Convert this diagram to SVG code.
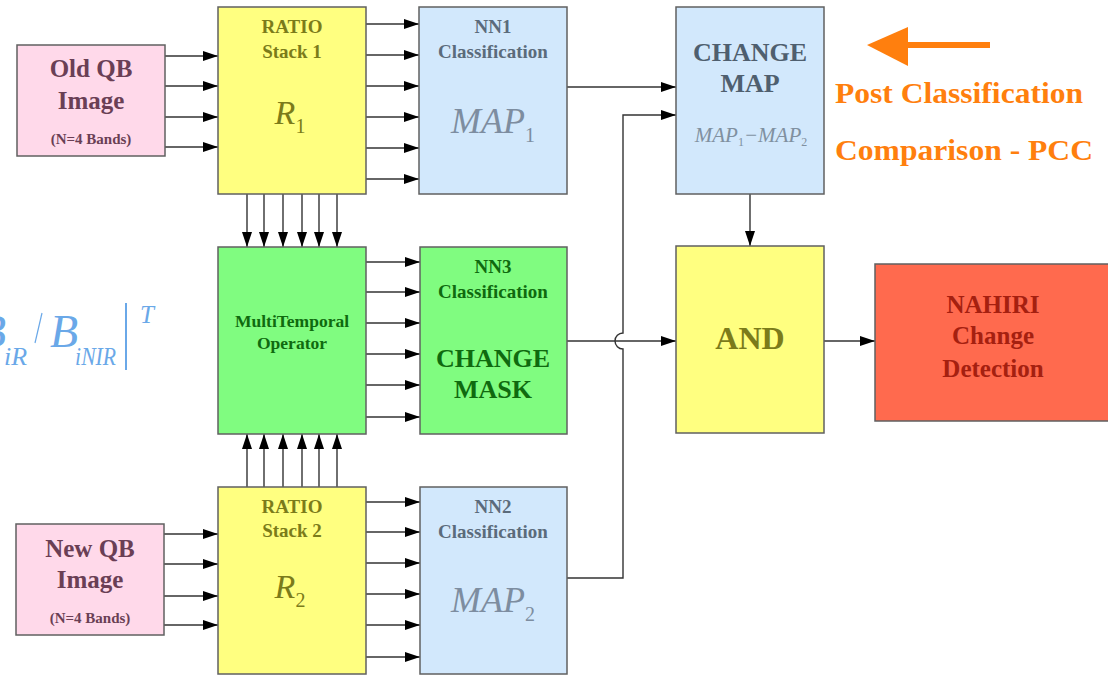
<svg xmlns="http://www.w3.org/2000/svg" width="1108" height="675" viewBox="0 0 1108 675">
<defs>
<marker id="ah" markerUnits="userSpaceOnUse" markerWidth="15" markerHeight="10" refX="15" refY="5" orient="auto">
<path d="M0,0 L15,5 L0,10 z" fill="#000"/>
</marker>
<style>
.box{stroke:#606060;stroke-width:1.5}
.pink{fill:#ffd9ea}
.yel{fill:#ffff80}
.blue{fill:#d2e8fc}
.grn{fill:#80fc80}
.red{fill:#ff6a4e}
text{font-family:"Liberation Serif","Times New Roman",serif;font-weight:bold;text-anchor:middle}
.it{font-style:italic;font-weight:normal}
.sub{font-style:normal}
.c{fill:none;stroke:#333;stroke-width:1.4;marker-end:url(#ah)}
.tpink{fill:#6a3f55}
.tyel{fill:#7b7b1a}
.tblue{fill:#5b6b7b}
.tgrn{fill:#0f6a0f}
.tred{fill:#a52010}
.org{fill:#ff7f0e;text-anchor:start}
.frm{fill:#6aa8e8;font-style:italic;font-weight:normal;text-anchor:start}
</style>
</defs>
<rect width="1108" height="675" fill="#fff"/>

<g id="formula">
<text class="frm" x="-22" y="347" font-size="46">B<tspan font-size="26" dy="18" dx="-2">iR</tspan></text>
<line x1="42" y1="313" x2="35" y2="343" stroke="#6aa8e8" stroke-width="1.2"/>
<text class="frm" x="50" y="347" font-size="46">B<tspan font-size="26" dy="18" dx="-3" textLength="41" lengthAdjust="spacingAndGlyphs">iNIR</tspan></text>
<line x1="126" y1="303" x2="126" y2="370" stroke="#6aa8e8" stroke-width="2"/>
<text class="frm" x="140" y="323" font-size="25">T</text>
</g>

<g id="connectors">
<path class="c" d="M165,56 H218"/>
<path class="c" d="M165,86 H218"/>
<path class="c" d="M165,117 H218"/>
<path class="c" d="M165,147 H218"/>
<path class="c" d="M366,24 H419"/>
<path class="c" d="M366,55 H419"/>
<path class="c" d="M366,86 H419"/>
<path class="c" d="M366,117 H419"/>
<path class="c" d="M366,148 H419"/>
<path class="c" d="M366,179 H419"/>
<path class="c" d="M247,194 V247"/>
<path class="c" d="M264,194 V247"/>
<path class="c" d="M283,194 V247"/>
<path class="c" d="M302,194 V247"/>
<path class="c" d="M319,194 V247"/>
<path class="c" d="M337,194 V247"/>
<path class="c" d="M247,487 V434"/>
<path class="c" d="M264,487 V434"/>
<path class="c" d="M283,487 V434"/>
<path class="c" d="M302,487 V434"/>
<path class="c" d="M319,487 V434"/>
<path class="c" d="M337,487 V434"/>
<path class="c" d="M366,262 H420"/>
<path class="c" d="M366,292 H420"/>
<path class="c" d="M366,323 H420"/>
<path class="c" d="M366,354 H420"/>
<path class="c" d="M366,385 H420"/>
<path class="c" d="M366,417 H420"/>
<path class="c" d="M164,534 H218"/>
<path class="c" d="M164,564 H218"/>
<path class="c" d="M164,596 H218"/>
<path class="c" d="M164,625 H218"/>
<path class="c" d="M366,502 H420"/>
<path class="c" d="M366,532 H420"/>
<path class="c" d="M366,563 H420"/>
<path class="c" d="M366,594 H420"/>
<path class="c" d="M366,625 H420"/>
<path class="c" d="M366,657 H420"/>
<path class="c" d="M567,87 H676"/>
<path class="c" d="M567,578 H623 V349 A8,8 0 0 1 623,333 V115 H676"/>
<path class="c" d="M567,341 H676"/>
<path class="c" d="M750,194 V246"/>
<path class="c" d="M824,341 H875"/>
</g>

<g id="oldqb">
<rect class="box pink" x="17" y="45" width="148" height="111"/>
<text class="tpink" x="91" y="77" font-size="25">Old QB</text>
<text class="tpink" x="91" y="109" font-size="25">Image</text>
<text class="tpink" x="91" y="144" font-size="15">(N=4 Bands)</text>
</g>

<g id="ratio1">
<rect class="box yel" x="218" y="7" width="148" height="187"/>
<text class="tyel" x="292" y="33" font-size="19">RATIO</text>
<text class="tyel" x="292" y="58" font-size="19">Stack 1</text>
<text class="tyel it" x="290" y="124" font-size="34">R<tspan class="sub" font-size="20" dy="9">1</tspan></text>
</g>

<g id="nn1">
<rect class="box blue" x="419" y="7" width="148" height="187"/>
<text class="tblue" x="493" y="33" font-size="19">NN1</text>
<text class="tblue" x="493" y="58" font-size="19">Classification</text>
<text class="it" x="493" y="133" font-size="36" fill="#7d8da0">MAP<tspan class="sub" font-size="20" dy="9">1</tspan></text>
</g>

<g id="changemap">
<rect class="box blue" x="676" y="7" width="148" height="187"/>
<text x="750" y="61" font-size="26" fill="#4f5f6f">CHANGE</text>
<text x="750" y="92" font-size="26" fill="#4f5f6f">MAP</text>
<text class="it" x="751" y="142" font-size="21" fill="#8090a0">MAP<tspan class="sub" font-size="12" dy="4">1</tspan><tspan dy="-4">−MAP</tspan><tspan class="sub" font-size="12" dy="4">2</tspan></text>
</g>

<g id="multitemporal">
<rect class="box grn" x="218" y="247" width="148" height="187"/>
<text class="tgrn" x="292" y="327" font-size="17.5">MultiTemporal</text>
<text class="tgrn" x="292" y="349" font-size="17.5">Operator</text>
</g>

<g id="nn3">
<rect class="box grn" x="420" y="247" width="147" height="187"/>
<text class="tgrn" x="493" y="273" font-size="19">NN3</text>
<text class="tgrn" x="493" y="298" font-size="19">Classification</text>
<text class="tgrn" x="493" y="367" font-size="26">CHANGE</text>
<text class="tgrn" x="493" y="398" font-size="26">MASK</text>
</g>

<g id="and">
<rect class="box yel" x="676" y="246" width="148" height="187"/>
<text class="tyel" x="750" y="349" font-size="32">AND</text>
</g>

<g id="nahiri">
<rect class="box red" x="875" y="264" width="240" height="157"/>
<text class="tred" x="993" y="313" font-size="25">NAHIRI</text>
<text class="tred" x="993" y="344" font-size="25">Change</text>
<text class="tred" x="993" y="377" font-size="25">Detection</text>
</g>

<g id="newqb">
<rect class="box pink" x="16" y="524" width="148" height="111"/>
<text class="tpink" x="90" y="557" font-size="25">New QB</text>
<text class="tpink" x="90" y="588" font-size="25">Image</text>
<text class="tpink" x="90" y="623" font-size="15">(N=4 Bands)</text>
</g>

<g id="ratio2">
<rect class="box yel" x="218" y="487" width="148" height="187"/>
<text class="tyel" x="292" y="513" font-size="19">RATIO</text>
<text class="tyel" x="292" y="537" font-size="19">Stack 2</text>
<text class="tyel it" x="290" y="598" font-size="34">R<tspan class="sub" font-size="20" dy="9">2</tspan></text>
</g>

<g id="nn2">
<rect class="box blue" x="420" y="487" width="147" height="187"/>
<text class="tblue" x="493" y="513" font-size="19">NN2</text>
<text class="tblue" x="493" y="538" font-size="19">Classification</text>
<text class="it" x="493" y="612" font-size="36" fill="#7d8da0">MAP<tspan class="sub" font-size="20" dy="9">2</tspan></text>
</g>

<g id="pcc">
<rect x="905" y="42" width="85" height="6" fill="#ff7f0e"/>
<polygon points="867,45 908,27 908,66" fill="#ff7f0e"/>
<text class="org" x="835" y="103" font-size="29" textLength="248" lengthAdjust="spacingAndGlyphs">Post Classification</text>
<text class="org" x="835" y="160" font-size="29" textLength="258" lengthAdjust="spacingAndGlyphs">Comparison - PCC</text>
</g>
</svg>
